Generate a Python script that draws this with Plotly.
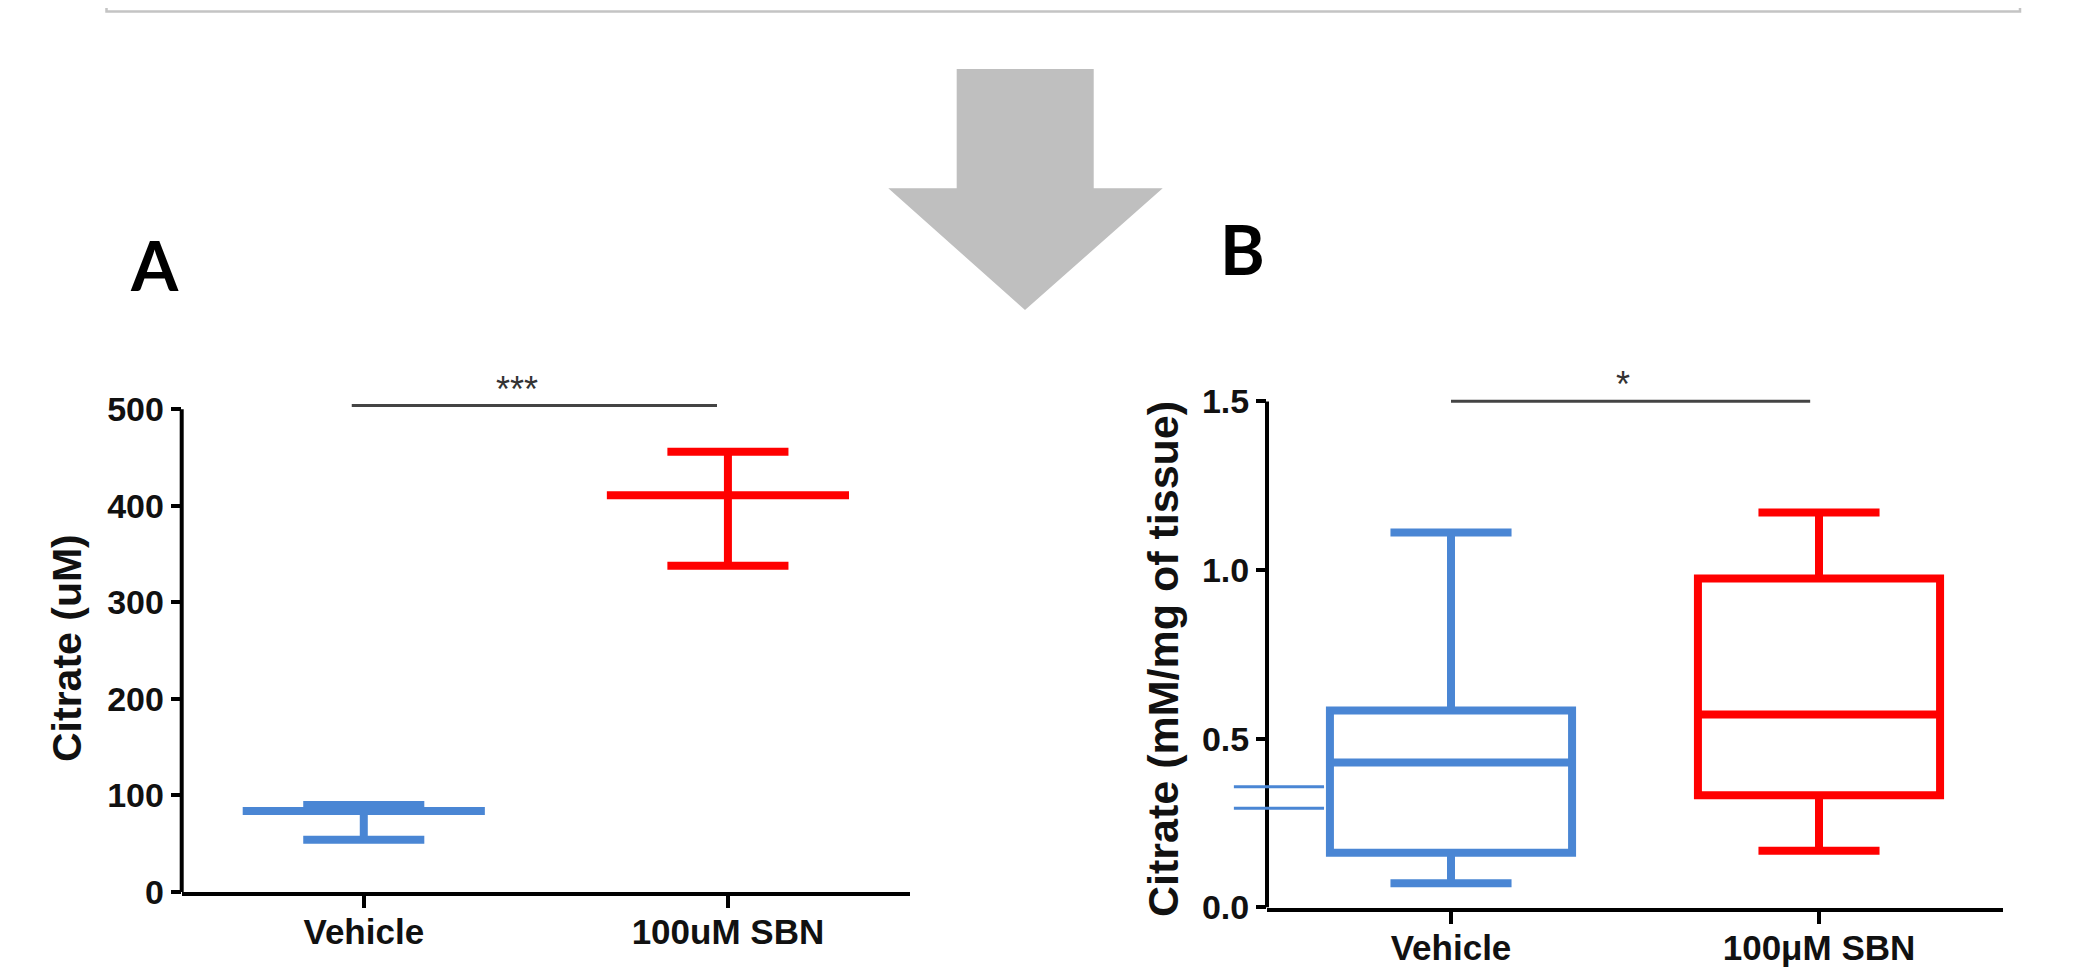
import plotly.graph_objects as go

W, H = 2077, 972

# ---------------- data ----------------
categories_a = ["Vehicle", "100uM SBN"]
mean_a = [84, 411]
upper_a = [90, 456]
lower_a = [54, 338]
yticks_a = [0, 100, 200, 300, 400, 500]

categories_b = ["Vehicle", "100\u03bcM SBN"]
q1_b = [0.162, 0.333]
median_b = [0.430, 0.572]
q3_b = [0.584, 0.975]
lowfence_b = [0.072, 0.168]
highfence_b = [1.112, 1.171]
yticks_b = [0.0, 0.5, 1.0, 1.5]
yticktext_b = ["0.0", "0.5", "1.0", "1.5"]

# stray short blue lines left of panel B axis
stub_vals_b = [0.358, 0.294]
stub_x_b = [-0.59, -0.345]

colors = ["#4a86d4", "#ff0000"]
sig_a = {"x": [-0.033, 0.97], "y": 504, "label": "***", "lx": 0.42, "ly": 520}
sig_b = {"x": [0.0, 0.976], "y": 1.501, "label": "*", "lx": 0.467, "ly": 1.55}

XRANGE = [-0.5, 1.5]

# the page places the figure 8px in from the top-left corner
OFF = 8.0


def px(t):
    return (t - OFF) / W


def py(t):
    return 1 - (t - OFF) / H


fig = go.Figure()

# Panel A: mean with range (flat boxes with whiskers)
for i in range(2):
    fig.add_trace(go.Box(
        x=[i], q1=[mean_a[i]], median=[mean_a[i]], q3=[mean_a[i]],
        lowerfence=[lower_a[i]], upperfence=[upper_a[i]],
        width=0.665, whiskerwidth=0.5,
        line=dict(color=colors[i], width=8),
        fillcolor="rgba(0,0,0,0)", boxpoints=False,
        xaxis="x", yaxis="y", showlegend=False, hoverinfo="skip",
    ))

# Panel B: box plots
for i in range(2):
    fig.add_trace(go.Box(
        x=[i], q1=[q1_b[i]], median=[median_b[i]], q3=[q3_b[i]],
        lowerfence=[lowfence_b[i]], upperfence=[highfence_b[i]],
        width=0.658, whiskerwidth=0.5,
        line=dict(color=colors[i], width=8),
        fillcolor="rgba(0,0,0,0)", boxpoints=False,
        xaxis="x2", yaxis="y2", showlegend=False, hoverinfo="skip",
    ))

FAM = "Liberation Sans, Arial, sans-serif"
xtickfont = dict(family=FAM, size=35, color="#111", weight="bold")
ytickfont = dict(family=FAM, size=34, color="#111", weight="bold")
common_x = dict(range=XRANGE, tickvals=[0, 1], showline=True, linewidth=4, linecolor="black",
                ticks="outside", ticklen=12, tickwidth=4, tickcolor="black", ticklabelstandoff=-6,
                showgrid=False, zeroline=False, tickfont=xtickfont, fixedrange=True,
                automargin=False)
common_y = dict(showline=False, ticks="outside", ticklen=10, tickwidth=4, tickcolor="black",
                showgrid=False, zeroline=False, tickfont=ytickfont, fixedrange=True,
                automargin=False)

# pixel geometry of each panel (as seen in the final picture)
a_y0, a_y500, a_top = 892.0, 409.3, 535
b_y0, b_y15, b_top = 907.5, 401.5, 1.6

a_ppu = (a_y0 - a_y500) / 500
b_ppu = (b_y0 - b_y15) / 1.5
a_dom = [py(a_y0), py(a_y0 - a_top * a_ppu)]
b_dom = [py(b_y0), py(b_y0 - b_top * b_ppu)]

fig.update_layout(
    width=W, height=H, margin=dict(l=0, r=0, t=0, b=0, pad=0), autosize=False,
    paper_bgcolor="white", plot_bgcolor="white", boxmode="overlay",
    xaxis=dict(domain=[px(181.7), px(910)], ticktext=categories_a, anchor="y", **common_x),
    yaxis=dict(domain=a_dom, range=[0, a_top], tickvals=yticks_a, anchor="x", **common_y),
    xaxis2=dict(domain=[px(1267), px(2003)], ticktext=categories_b, anchor="y2", **common_x),
    yaxis2=dict(domain=b_dom, range=[0, b_top], tickvals=yticks_b, ticktext=yticktext_b,
                anchor="x2", **common_y),
)

shapes = []
# y-axis lines ending at the top tick
shapes.append(dict(type="line", xref="x domain", yref="y", x0=0, x1=0, y0=0, y1=yticks_a[-1],
                   line=dict(color="black", width=4)))
shapes.append(dict(type="line", xref="x2 domain", yref="y2", x0=0, x1=0, y0=0, y1=yticks_b[-1],
                   line=dict(color="black", width=4)))
# significance bars
shapes.append(dict(type="line", xref="x", yref="y", x0=sig_a["x"][0], x1=sig_a["x"][1],
                   y0=sig_a["y"], y1=sig_a["y"], line=dict(color="#444", width=3)))
shapes.append(dict(type="line", xref="x2", yref="y2", x0=sig_b["x"][0], x1=sig_b["x"][1],
                   y0=sig_b["y"], y1=sig_b["y"], line=dict(color="#444", width=3)))
# stray blue stubs in panel B
span = XRANGE[1] - XRANGE[0]
for v in stub_vals_b:
    shapes.append(dict(type="line", xref="x2 domain", yref="y2",
                       x0=(stub_x_b[0] - XRANGE[0]) / span, x1=(stub_x_b[1] - XRANGE[0]) / span,
                       y0=v, y1=v, line=dict(color=colors[0], width=3)))
# top grey frame (partially visible box)
shapes.append(dict(type="rect", xref="paper", yref="paper", x0=px(106.5), x1=px(2020),
                   y0=py(11.5), y1=py(-40), line=dict(color="#c4c4c4", width=2.5),
                   fillcolor="rgba(0,0,0,0)"))
# grey down arrow
pts = [(956.7, 69), (1093.7, 69), (1093.7, 188.3), (1162.7, 188.3), (1025, 310),
       (888.3, 188.3), (956.7, 188.3)]
path = "M " + " L ".join(f"{px(a):.5f},{py(b):.5f}" for a, b in pts) + " Z"
shapes.append(dict(type="path", xref="paper", yref="paper", path=path,
                   fillcolor="#bfbfbf", line=dict(width=0)))
fig.update_layout(shapes=shapes)

ann = []
starfont = dict(family=FAM, size=36, color="#333")
ann.append(dict(xref="x", yref="y", x=sig_a["lx"], y=sig_a["ly"], text=sig_a["label"],
                showarrow=False, font=starfont, yanchor="middle"))
ann.append(dict(xref="x2", yref="y2", x=sig_b["lx"], y=sig_b["ly"], text=sig_b["label"],
                showarrow=False, font=starfont, yanchor="middle"))
ann.append(dict(xref="paper", yref="paper", x=px(67), y=py(648), text="Citrate (uM)",
                textangle=-90, showarrow=False, xanchor="center", yanchor="middle",
                font=dict(family=FAM, size=41, color="#111", weight="bold")))
ann.append(dict(xref="paper", yref="paper", x=px(1163), y=py(659), text="Citrate (mM/mg of tissue)",
                textangle=-90, showarrow=False, xanchor="center", yanchor="middle",
                font=dict(family=FAM, size=43, color="#111", weight="bold")))
labfont = dict(family="Lato, Open Sans, sans-serif", size=68, color="black", weight="bold")
ann.append(dict(xref="paper", yref="paper", x=px(154), y=py(264), text="A", showarrow=False,
                font=labfont, xanchor="center", yanchor="middle"))
ann.append(dict(xref="paper", yref="paper", x=px(1242), y=py(248), text="B", showarrow=False,
                font=labfont, xanchor="center", yanchor="middle"))
fig.update_layout(annotations=ann)

fig.write_html("out.html")
